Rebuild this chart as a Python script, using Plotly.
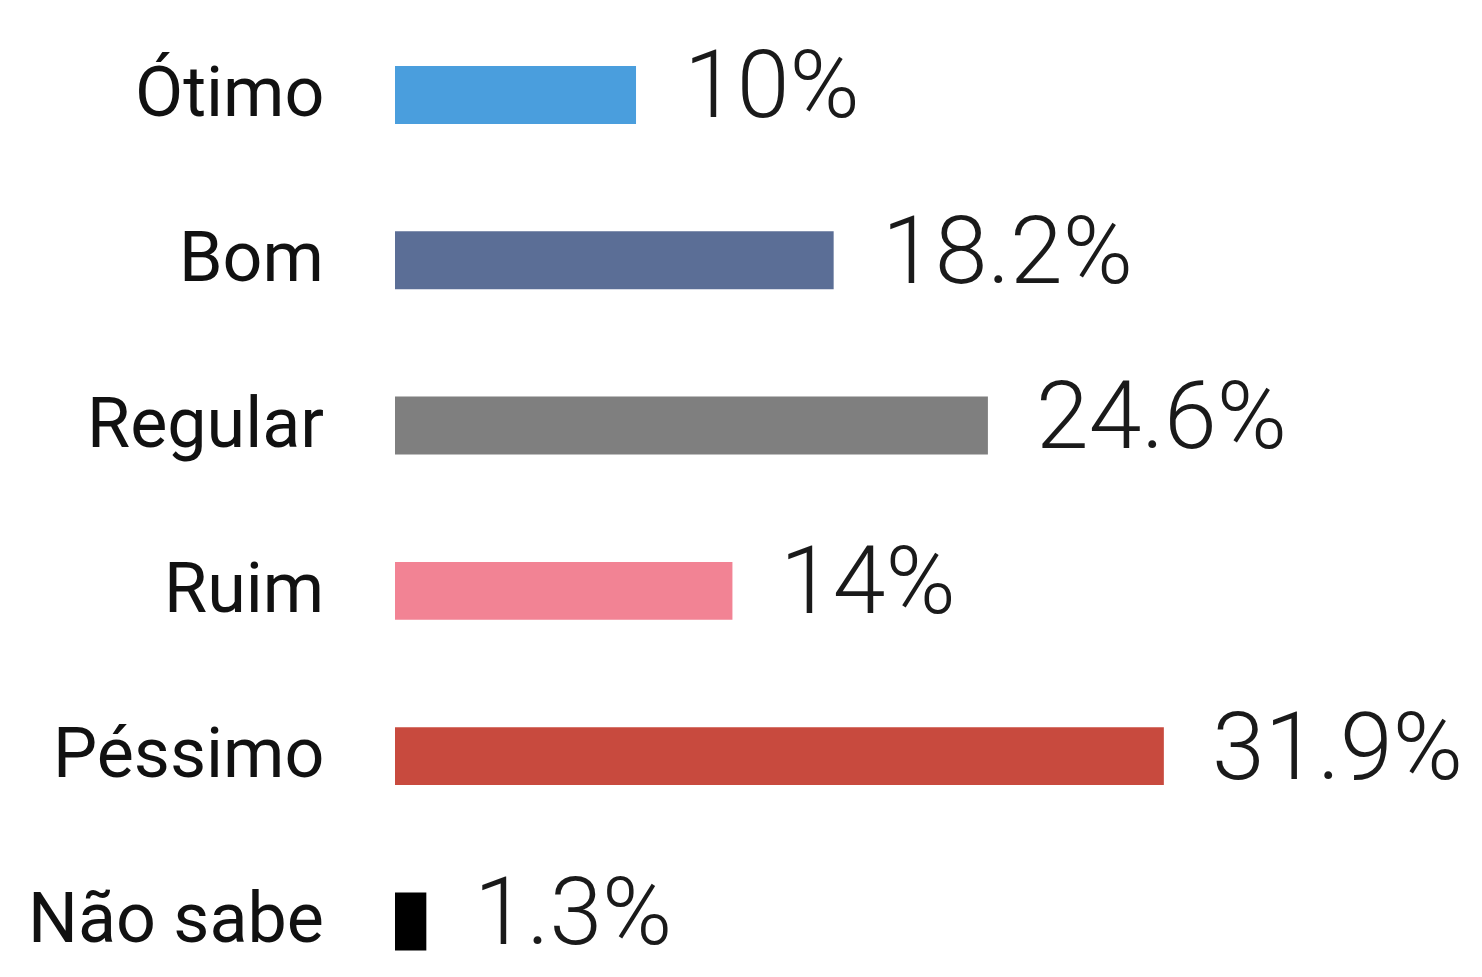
import plotly.graph_objects as go

categories = ["Ótimo", "Bom", "Regular", "Ruim", "Péssimo", "Não sabe"]
values = [10, 18.2, 24.6, 14, 31.9, 1.3]
value_labels = ["10%", "18.2%", "24.6%", "14%", "31.9%", "1.3%"]
colors = ["#4A9EDD", "#5B6E96", "#7F7F7F", "#F28394", "#C84A3E", "#000000"]

FONT = "Roboto, Liberation Sans, sans-serif"

fig = go.Figure()
fig.add_trace(go.Bar(
    x=values, y=categories, orientation="h",
    marker=dict(color=colors, line=dict(width=0)),
    width=0.35, hoverinfo="skip",
))

annotations = []
for cat, v, lab in zip(categories, values, value_labels):
    annotations.append(dict(
        x=v, y=cat, xref="x", yref="y", text=lab, showarrow=False,
        xanchor="left", yanchor="middle", xshift=46, yshift=10,
        font=dict(family=FONT, size=95, color="#1a1a1a", weight=300),
    ))
    annotations.append(dict(
        x=0, y=cat, xref="paper", yref="y", text=cat, showarrow=False,
        xanchor="right", yanchor="middle", xshift=-69, yshift=3,
        font=dict(family=FONT, size=70, color="#111111"),
    ))

fig.update_layout(
    width=1474, height=969,
    margin=dict(l=387, r=0, t=0, b=0),
    paper_bgcolor="white", plot_bgcolor="white",
    showlegend=False,
    xaxis=dict(range=[0, 45.1], visible=False, fixedrange=True),
    yaxis=dict(type="category", categoryorder="array", categoryarray=categories,
               range=[5.336, -0.526], visible=False, fixedrange=True),
    annotations=annotations,
)

fig.write_html("out.html")
